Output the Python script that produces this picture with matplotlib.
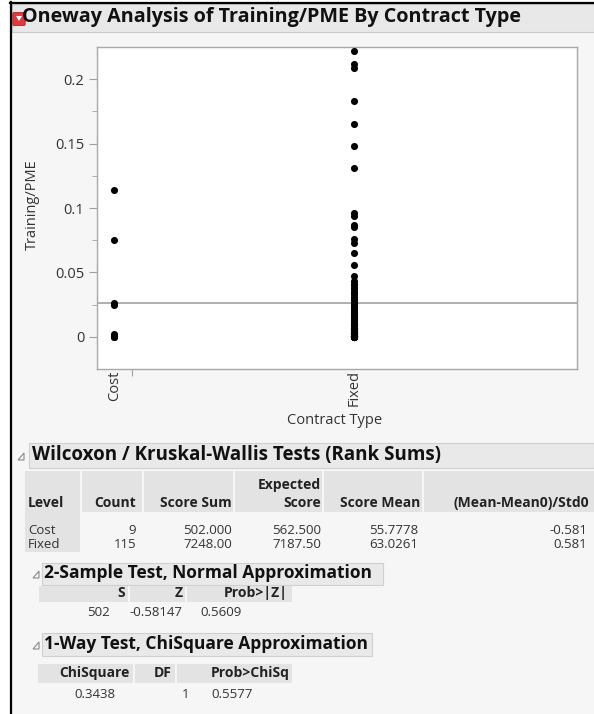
"""
Oneway Analysis of Training/PME By Contract Type (JMP report)
"""
import numpy as np
import matplotlib
matplotlib.use("Agg")
import matplotlib.pyplot as plt
from matplotlib.patches import Rectangle, Polygon, FancyBboxPatch
from matplotlib.lines import Line2D

plt.rcParams['font.family'] = ['Open Sans', 'DejaVu Sans']

W, H = 594, 714

levels = ["Cost", "Fixed"]
cost_vals = [0.114, 0.075, 0.026, 0.025, 0.002, 0.001, 0.001, 0.0, 0.0]
fixed_vals = [
    0.222, 0.212, 0.209, 0.183, 0.165, 0.148, 0.131,
    0.096, 0.094, 0.087, 0.085, 0.076, 0.073, 0.065, 0.056, 0.047,
    0.043, 0.041, 0.040, 0.038, 0.037, 0.035, 0.034, 0.033, 0.031, 0.030,
    0.029, 0.028, 0.027, 0.026, 0.025, 0.024, 0.023, 0.022, 0.021, 0.021,
    0.020, 0.019, 0.018, 0.018, 0.017, 0.016, 0.015, 0.015, 0.014, 0.013,
    0.013, 0.012, 0.011, 0.011, 0.010, 0.010, 0.009, 0.009, 0.008, 0.008,
    0.007, 0.007, 0.006, 0.006, 0.006, 0.005, 0.005, 0.005, 0.004, 0.004,
    0.004, 0.004, 0.003, 0.003, 0.003, 0.003, 0.003, 0.002, 0.002, 0.002,
    0.002, 0.002, 0.002, 0.001, 0.001, 0.001, 0.001, 0.001, 0.001, 0.001,
    0.001, 0.000, 0.000, 0.000, 0.000, 0.000, 0.000, 0.000, 0.000, 0.000,
    0.015, 0.014, 0.012, 0.011, 0.010, 0.009, 0.008, 0.007, 0.006, 0.005,
    0.005, 0.004, 0.004, 0.003, 0.003, 0.002, 0.001, 0.001, 0.001,
]

y_ticks = [0, 0.05, 0.1, 0.15, 0.2]
y_ticklabels = ["0", "0.05", "0.1", "0.15", "0.2"]
y_minor = [0.025, 0.075, 0.125, 0.175]

wil_cols = ["Level", "Count", "Score Sum", "Expected\nScore", "Score Mean", "(Mean-Mean0)/Std0"]
wil_rows = [
    ["Cost", "9", "502.000", "562.500", "55.7778", "-0.581"],
    ["Fixed", "115", "7248.00", "7187.50", "63.0261", "0.581"],
]
two_cols = ["S", "Z", "Prob>|Z|"]
two_vals = ["502", "-0.58147", "0.5609"]
chi_cols = ["ChiSquare", "DF", "Prob>ChiSq"]
chi_vals = ["0.3438", "1", "0.5577"]

fig = plt.figure(figsize=(W / 100, H / 100), dpi=100)
fig.patch.set_facecolor('white')

TXT = '#333333'
HEAD = '#222222'
CELL = '#e3e3e3'
FS = 9.5      # table body
FH = 10       # table headers


def fx(x):
    return x / W


def fy(y):
    return 1 - y / H


def rect(x0, y0, x1, y1, fc, ec='none', lw=0, z=0):
    fig.add_artist(Rectangle((fx(x0), fy(y1)), fx(x1) - fx(x0), fy(y0) - fy(y1),
                             transform=fig.transFigure, facecolor=fc,
                             edgecolor=ec, linewidth=lw, zorder=z))


def txt(x, y, s, ha='left', size=8, weight='normal', color=TXT, **kw):
    fig.text(fx(x), fy(y), s, ha=ha, va='center', fontsize=size,
             fontweight=weight, color=color, zorder=5, **kw)


def opener(x, y):
    # small grey outline triangle in front of each report header
    pts = [(fx(x), fy(y + 4)), (fx(x + 6), fy(y + 4)), (fx(x + 6), fy(y - 3))]
    fig.add_artist(Polygon(pts, closed=True, transform=fig.transFigure,
                           facecolor='none', edgecolor='#8a8a8a', lw=0.8, zorder=5))


# report background and frame
rect(11, 3, 594, 714, '#f6f6f6')
fig.add_artist(Line2D([fx(11), fx(11)], [fy(2), fy(714)], transform=fig.transFigure,
                      color='black', lw=1.6, zorder=6))
fig.add_artist(Line2D([fx(10), fx(594)], [fy(3), fy(3)], transform=fig.transFigure,
                      color='black', lw=1.6, zorder=6))

# title bar
rect(12, 4, 594, 32, '#e8e8e8', ec='#c8c8c8', lw=0.8)
fig.add_artist(FancyBboxPatch((fx(14), fy(24)), fx(10), fy(0) - fy(10),
                              boxstyle='round,pad=0.002', transform=fig.transFigure,
                              facecolor='#dd3b3f', edgecolor='#b02025', lw=0.6, zorder=5))
fig.add_artist(Polygon([(fx(16), fy(16)), (fx(22), fy(16)), (fx(19), fy(21))],
                       closed=True, transform=fig.transFigure,
                       facecolor='white', edgecolor='none', zorder=6))
txt(22, 17, "Oneway Analysis of Training/PME By Contract Type", size=14.2,
    weight='bold', color='#111111')

# scatter plot
ax = fig.add_axes([fx(97), fy(369), fx(577) - fx(97), fy(47) - fy(369)])
ax.set_facecolor('white')
counts = [len(cost_vals), len(fixed_vals)]
edges = np.concatenate([[0], np.cumsum(counts)])
centers = (edges[:-1] + edges[1:]) / 2
for c, vals in zip(centers, [cost_vals, fixed_vals]):
    ax.scatter(np.full(len(vals), c), vals, s=26, color='black',
               linewidths=0, zorder=3)
grand_mean = np.mean(cost_vals + fixed_vals)
ax.axhline(grand_mean, color='#a8a8a8', lw=1.3, zorder=2)

ax.set_xlim(0, edges[-1])
ax.set_ylim(-0.025, 0.225)
ax.set_xticks(edges[1:-1])
ax.set_xticklabels([])
ax.set_xticks(centers, minor=True)
ax.set_xticklabels(levels, minor=True, rotation=90, fontsize=10.5, color=TXT)
ax.tick_params(axis='x', which='minor', length=0, pad=1)
ax.tick_params(axis='x', which='major', length=5, color='#a0a0a0')
ax.set_yticks(y_ticks, y_ticklabels, fontsize=10.5, color=TXT)
ax.set_yticks(y_minor, minor=True)
ax.tick_params(axis='y', which='major', length=6, color='#a0a0a0', pad=3)
ax.tick_params(axis='y', which='minor', length=3.5, color='#a0a0a0')
for sp in ax.spines.values():
    sp.set_color('#a8a8a8')
    sp.set_linewidth(1)

txt(32, 205, "Training/PME", ha='center', size=10.5, rotation=90)
txt(335, 421, "Contract Type", ha='center', size=10.5)

# Wilcoxon / Kruskal-Wallis
opener(18, 456)
rect(29, 443, 594, 468, '#e9e9e9', ec='#d0d0d0', lw=0.8)
txt(32, 455, "Wilcoxon / Kruskal-Wallis Tests (Rank Sums)", size=13.5, weight='bold',
    color='#111111')

wil_cells = [(25, 80), (82, 142), (144, 233), (235, 322), (324, 422), (424, 594)]
wil_right = [28, 136, 232, 321, 420, 589]
for a, b in wil_cells:
    rect(a, 471, b, 512, CELL)
rect(25, 512, 80, 552, CELL)
for i, name in enumerate(wil_cols):
    lines = name.split("\n")
    ha = 'left' if i == 0 else 'right'
    if len(lines) == 2:
        txt(wil_right[i], 485, lines[0], ha=ha, size=FH, weight='bold', color=HEAD)
        txt(wil_right[i], 503, lines[1], ha=ha, size=FH, weight='bold', color=HEAD)
    else:
        txt(wil_right[i], 503, lines[0], ha=ha, size=FH, weight='bold', color=HEAD)
for r, row in enumerate(wil_rows):
    yy = 530 + 15 * r
    for i, val in enumerate(row):
        ha = 'left' if i == 0 else 'right'
        xr = wil_right[i] - (2 if i >= 4 else 0)
        txt(xr if i else 28, yy, val, ha=ha, size=FS)

# 2-Sample Test
opener(33, 574)
rect(42, 563, 383, 585, '#e9e9e9', ec='#d0d0d0', lw=0.8)
txt(44, 573, "2-Sample Test, Normal Approximation", size=12.5, weight='bold',
    color='#111111')
two_cells = [(39, 128), (130, 185), (187, 292)]
two_right = [125, 183, 288]
for (a, b), name, xr in zip(two_cells, two_cols, two_right):
    rect(a, 586, b, 602, CELL)
    txt(xr, 593, name, ha='right', size=FH, weight='bold', color=HEAD)
for xr, val in zip([110, 182, 242], two_vals):
    txt(xr, 613, val, ha='right', size=FS)

# 1-Way Test
opener(33, 645)
rect(42, 633, 372, 656, '#e9e9e9', ec='#d0d0d0', lw=0.8)
txt(44, 644, "1-Way Test, ChiSquare Approximation", size=12.5, weight='bold',
    color='#111111')
chi_cells = [(38, 133), (135, 175), (177, 292)]
chi_right = [130, 172, 290]
for (a, b), name, xr in zip(chi_cells, chi_cols, chi_right):
    rect(a, 664, b, 683, CELL)
    txt(xr, 673, name, ha='right', size=FH, weight='bold', color=HEAD)
for xr, val in zip([115, 189, 253], chi_vals):
    txt(xr, 695, val, ha='right', size=FS)

fig.savefig("out.png", dpi=100, facecolor=fig.get_facecolor())
